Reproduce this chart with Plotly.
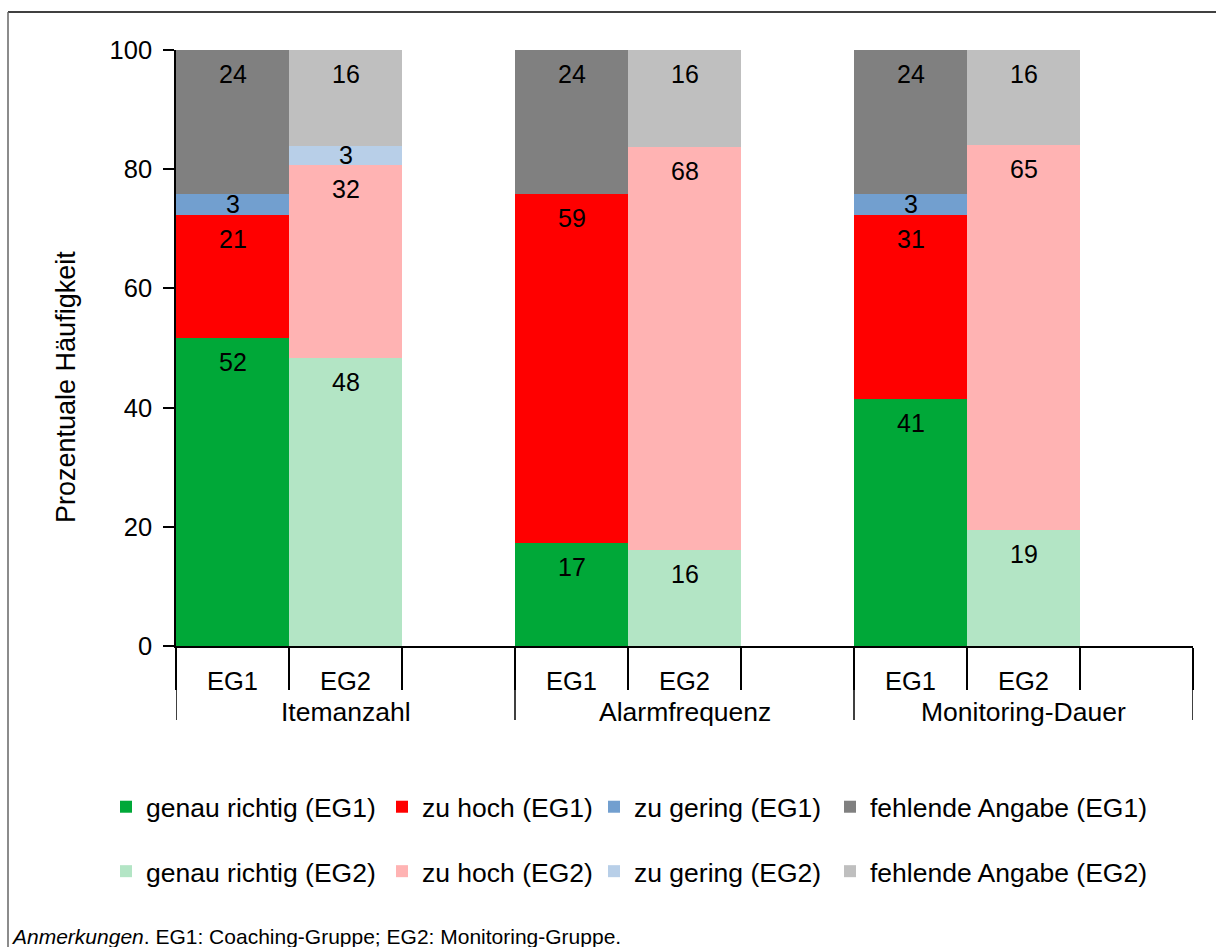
import plotly.graph_objects as go

# ---------------- data ----------------
groups = ["Itemanzahl", "Alarmfrequenz", "Monitoring-Dauer"]
sub_labels = ["EG1", "EG2"]

eg1_genau = [51.7, 17.2, 41.4]
eg1_hoch = [20.7, 58.6, 31.0]
eg1_gering = [3.4, 0.0, 3.4]
eg1_fehlend = [24.2, 24.2, 24.2]

eg2_genau = [48.4, 16.1, 19.4]
eg2_hoch = [32.3, 67.6, 64.7]
eg2_gering = [3.2, 0.0, 0.0]
eg2_fehlend = [16.1, 16.3, 15.9]

y_ticks = [0, 20, 40, 60, 80, 100]
note_text = "<i>Anmerkungen</i>. EG1: Coaching-Gruppe; EG2: Monitoring-Gruppe."
y_title = "Prozentuale Häufigkeit"

# ---------------- layout constants ----------------
W, H = 1216, 947
ML, MR, MT, MB = 176, 23, 50, 301
PW, PH = W - ML - MR, H - MT - MB
FONT = "Liberation Sans, Arial, sans-serif"
FS = 25


def px2x(px):
    return (px - ML) / PW


def py2y(py):
    return (H - MB - py) / PH


slots_per_group = 3
x_eg1 = [slots_per_group * g for g in range(len(groups))]
x_eg2 = [slots_per_group * g + 1 for g in range(len(groups))]

series = [
    ("genau richtig (EG1)", x_eg1, eg1_genau, "#00A838", "legend"),
    ("zu hoch (EG1)", x_eg1, eg1_hoch, "#FF0000", "legend2"),
    ("zu gering (EG1)", x_eg1, eg1_gering, "#729FCF", "legend3"),
    ("fehlende Angabe (EG1)", x_eg1, eg1_fehlend, "#808080", "legend4"),
    ("genau richtig (EG2)", x_eg2, eg2_genau, "#B3E5C5", "legend"),
    ("zu hoch (EG2)", x_eg2, eg2_hoch, "#FFB3B3", "legend2"),
    ("zu gering (EG2)", x_eg2, eg2_gering, "#B8CFE8", "legend3"),
    ("fehlende Angabe (EG2)", x_eg2, eg2_fehlend, "#BFBFBF", "legend4"),
]

fig = go.Figure()
annotations = []
bases = {}
label_font = dict(size=FS, color="black", family=FONT)
for name, xs, vals, color, leg in series:
    fig.add_trace(go.Bar(
        x=xs, y=vals, name=name, marker=dict(color=color, line=dict(width=0)),
        legend=leg, legendgroup=name, hoverinfo="skip",
    ))
    for x, v in zip(xs, vals):
        b = bases.get(x, 0.0)
        top = round(b + v, 6)
        bases[x] = top
        if v < 0.5:
            continue
        seg_px = v * PH / 100.0
        if seg_px > 40:
            annotations.append(dict(x=x, y=min(top, 100), xref="x", yref="y", yshift=-24,
                                    text=f"{round(v)}", showarrow=False,
                                    yanchor="middle", font=label_font))
        else:
            annotations.append(dict(x=x, y=b + v / 2, xref="x", yref="y",
                                    text=f"{round(v)}", showarrow=False,
                                    yanchor="middle", font=label_font))

n_slots = slots_per_group * len(groups)
xrange = [-0.5, n_slots - 0.5]
tickvals = x_eg1 + x_eg2
ticktext = [sub_labels[0]] * len(x_eg1) + [sub_labels[1]] * len(x_eg2)
minor_vals = [i - 0.5 for i in range(n_slots + 1)]
group_bounds = [slots_per_group * g - 0.5 for g in range(len(groups) + 1)]
group_centers = [slots_per_group * g + 1 for g in range(len(groups))]

# group labels below the sub-category labels
for gc, gname in zip(group_centers, groups):
    annotations.append(dict(x=gc, y=py2y(712), xref="x", yref="paper", text=gname,
                            showarrow=False, xanchor="center", yanchor="middle",
                            font=dict(size=26.5, color="black", family=FONT)))

# axis title and note
annotations.append(dict(x=px2x(66), y=py2y(387), xref="paper", yref="paper", text=y_title,
                        textangle=-90, showarrow=False, xanchor="center", yanchor="middle",
                        font=dict(size=27, color="black", family=FONT)))
annotations.append(dict(x=px2x(9), y=py2y(936), xref="paper", yref="paper", text=note_text,
                        showarrow=False, xanchor="left", yanchor="middle",
                        font=dict(size=21, color="black", family=FONT)))

shapes = [
    dict(type="line", xref="paper", yref="paper", x0=px2x(8), x1=px2x(1220),
         y0=py2y(12), y1=py2y(12), line=dict(color="black", width=1.5)),
    dict(type="line", xref="paper", yref="paper", x0=px2x(8), x1=px2x(8),
         y0=py2y(12), y1=py2y(950), line=dict(color="#666666", width=1.5)),
]
for gb in group_bounds:
    shapes.append(dict(type="line", xref="x", yref="paper", x0=gb, x1=gb,
                       y0=0, y1=py2y(720), line=dict(color="black", width=1.5)))

legend_common = dict(orientation="v", yanchor="top", xanchor="left", bgcolor="rgba(0,0,0,0)",
                     font=dict(size=26.5, color="black", family=FONT), tracegroupgap=27,
                     borderwidth=0)
leg_y = py2y(783)

fig.update_layout(
    width=W, height=H, barmode="stack", bargap=0,
    margin=dict(l=ML, r=MR, t=MT, b=MB, autoexpand=False),
    paper_bgcolor="white", plot_bgcolor="white",
    font=dict(family=FONT, size=FS, color="black"),
    xaxis=dict(range=xrange, tickmode="array", tickvals=tickvals, ticktext=ticktext,
               ticks="", showline=True, linecolor="black", linewidth=1.5, showgrid=False,
               zeroline=False, ticklabelstandoff=12,
               tickfont=dict(size=25.5, color="black", family=FONT),
               minor=dict(tickmode="array", tickvals=minor_vals, ticks="outside", ticklen=42,
                          tickcolor="black", tickwidth=1.5, showgrid=False)),
    yaxis=dict(range=[0, 100], tickmode="array", tickvals=y_ticks, ticks="outside", ticklen=11,
               tickcolor="black", tickwidth=1.5, showline=True, linecolor="black", linewidth=1.5,
               showgrid=False, zeroline=False, ticklabelstandoff=6,
               tickfont=dict(size=25.5, color="black", family=FONT)),
    legend=dict(x=px2x(106), y=leg_y, **legend_common),
    legend2=dict(x=px2x(382), y=leg_y, **legend_common),
    legend3=dict(x=px2x(594), y=leg_y, **legend_common),
    legend4=dict(x=px2x(830), y=leg_y, **legend_common),
    annotations=annotations,
    shapes=shapes,
    showlegend=True,
)

fig.write_html("out.html", config={"displayModeBar": False},
               post_script="document.body.style.margin='0px';document.body.style.overflow='hidden';")
